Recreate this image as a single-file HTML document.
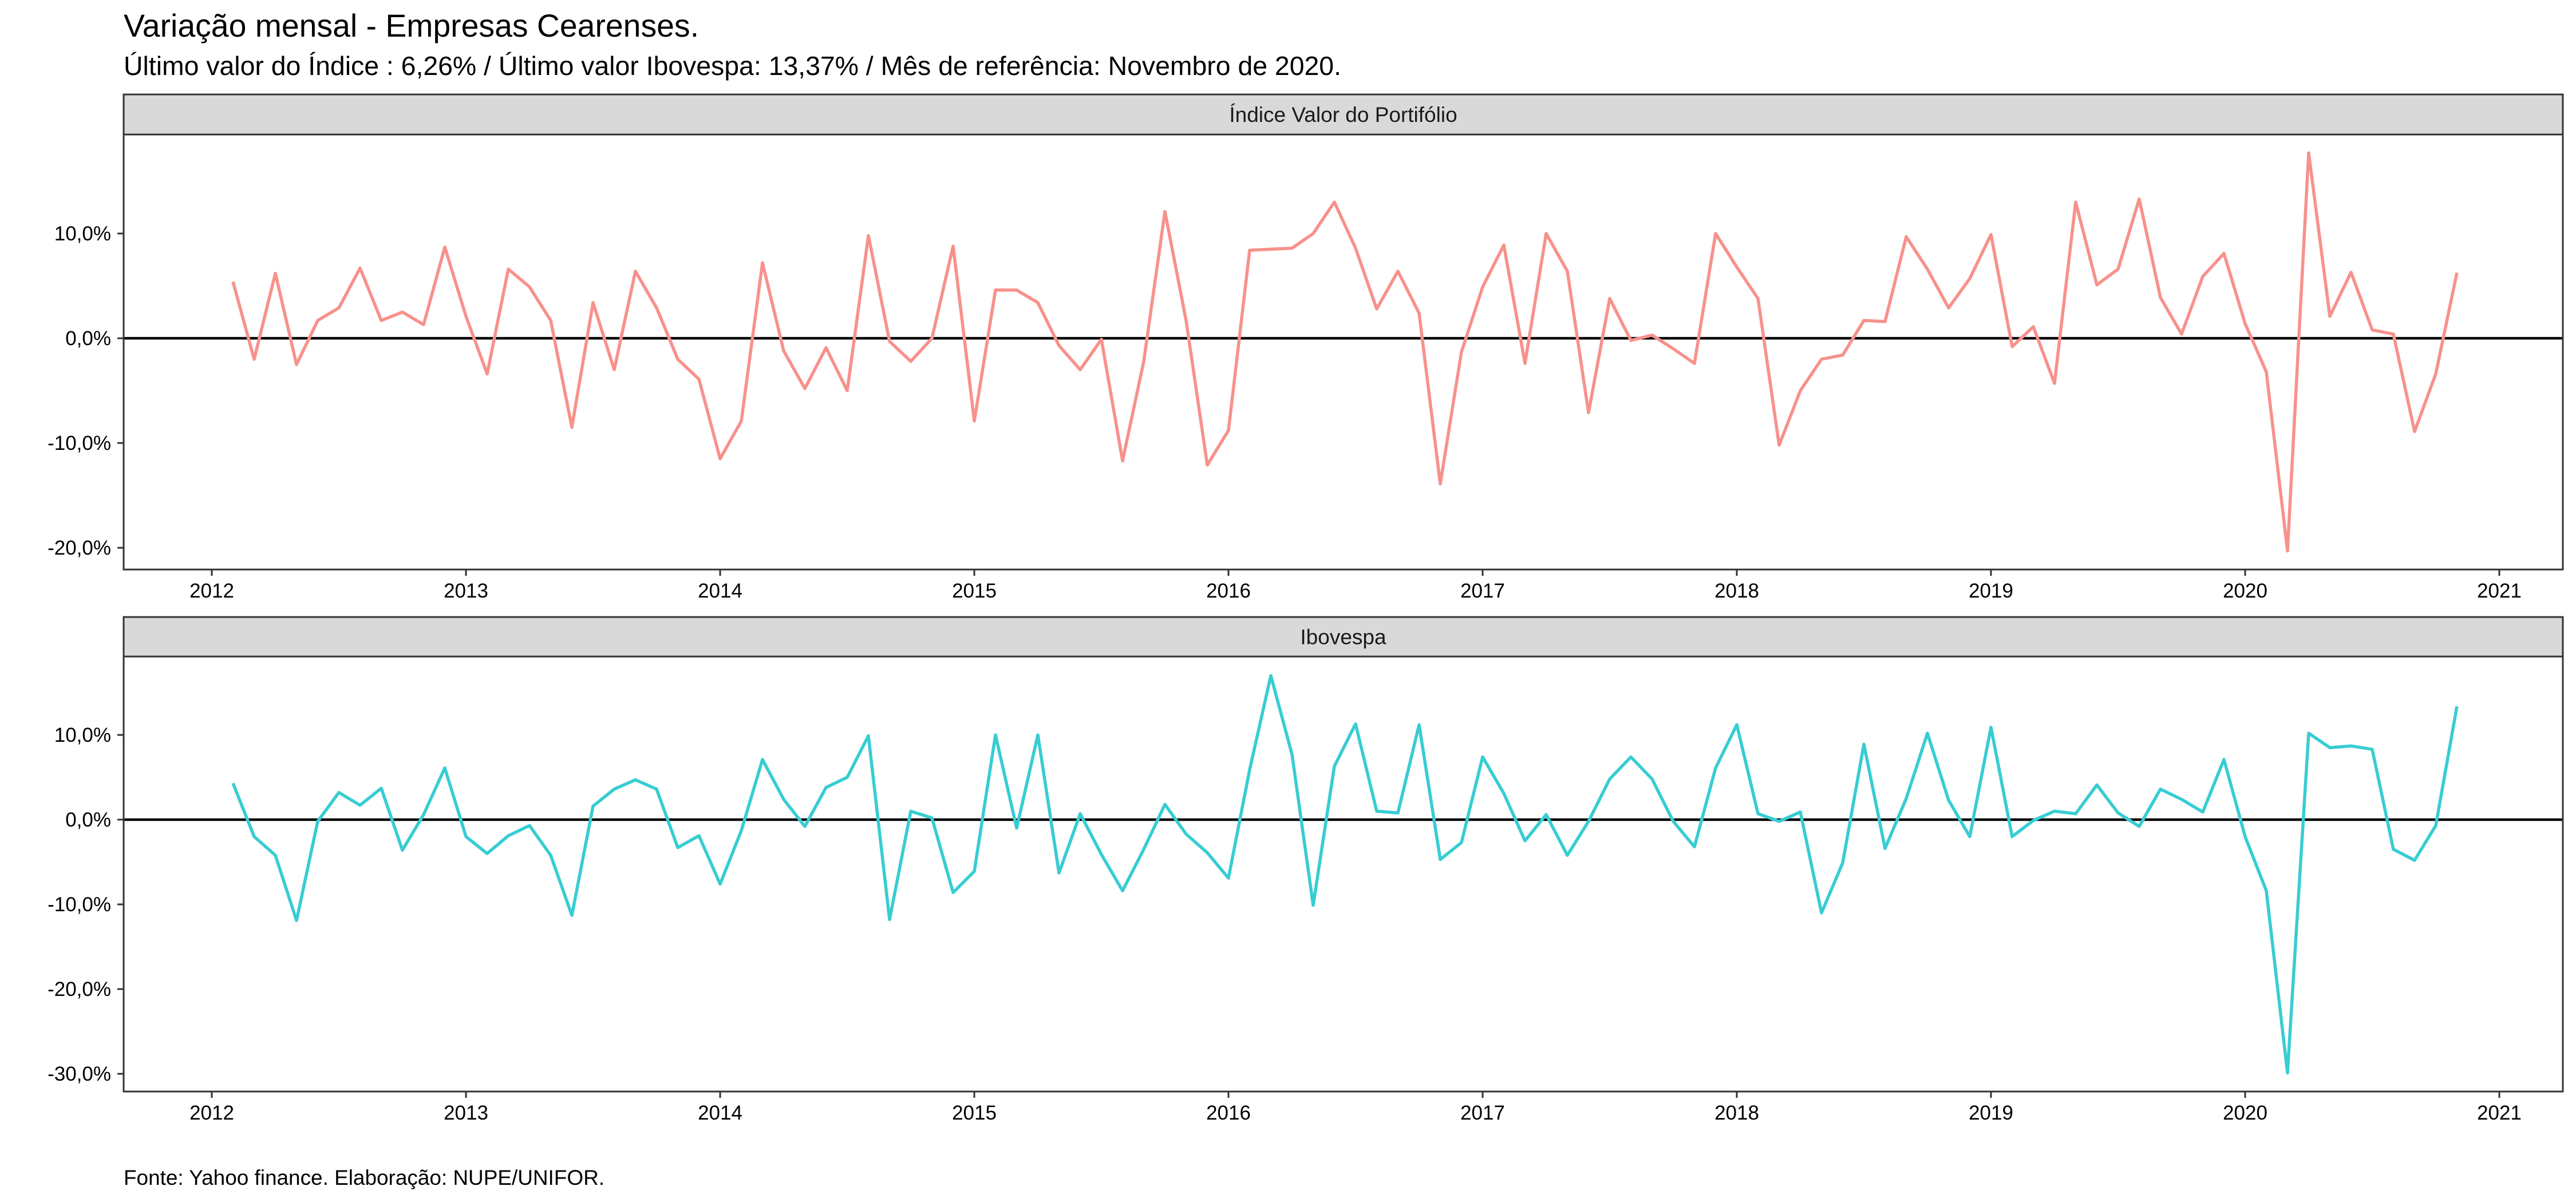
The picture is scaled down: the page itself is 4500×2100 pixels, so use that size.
<!DOCTYPE html>
<html><head><meta charset="utf-8"><style>
html,body{margin:0;padding:0;background:#fff;}
svg{display:block;font-family:"Liberation Sans",Arial,sans-serif;}
</style></head><body>
<svg id="chart" width="4500" height="2100" viewBox="0 0 4500 2100" xmlns="http://www.w3.org/2000/svg">
<rect x="0" y="0" width="4500" height="2100" fill="#fff"/>
<text x="216" y="64" font-size="56" textLength="1005" lengthAdjust="spacingAndGlyphs" fill="#000">Variação mensal - Empresas Cearenses.</text>
<text x="216" y="131" font-size="46" textLength="2127" lengthAdjust="spacingAndGlyphs" fill="#000">Último valor do Índice : 6,26% / Último valor Ibovespa: 13,37% / Mês de referência: Novembro de 2020.</text>
<text x="216" y="2070" font-size="37" textLength="840" lengthAdjust="spacingAndGlyphs" fill="#000">Fonte: Yahoo finance. Elaboração: NUPE/UNIFOR.</text>
<g id="panels"></g>
</svg>
<script>
const months = [];
for (let y = 2012; y <= 2020; y++) for (let m = 1; m <= 12; m++) {
  if (y === 2012 && m < 2) continue;
  if (y === 2020 && m > 11) continue;
  months.push(y + (m - 1) / 12);
}
const yearTicks = [2012, 2013, 2014, 2015, 2016, 2017, 2018, 2019, 2020, 2021];
const indiceValues = [5.4,-2.0,6.2,-2.5,1.7,2.9,6.7,1.7,2.5,1.3,8.7,
 2.1,-3.4,6.6,4.9,1.7,-8.5,3.4,-3.0,6.4,2.9,-2.0,-3.9,
 -11.5,-7.9,7.2,-1.2,-4.8,-0.9,-5.0,9.8,-0.3,-2.2,0.0,8.8,
 -7.9,4.6,4.6,3.4,-0.7,-3.0,-0.1,-11.7,-2.2,12.1,1.7,-12.1,
 -8.8,8.4,8.5,8.6,10.0,13.0,8.6,2.8,6.4,2.4,-13.9,-1.3,
 4.9,8.9,-2.4,10.0,6.4,-7.1,3.8,-0.2,0.3,-1.0,-2.4,10.0,
 6.8,3.8,-10.2,-5.0,-2.0,-1.6,1.7,1.6,9.7,6.6,2.9,5.7,
 9.9,-0.8,1.1,-4.3,13.0,5.1,6.6,13.3,3.9,0.4,5.9,8.1,
 1.4,-3.2,-20.3,17.7,2.1,6.3,0.8,0.4,-8.9,-3.4,6.26];
const ibovValues = [4.3,-2.0,-4.2,-11.9,-0.2,3.2,1.7,3.7,-3.6,0.6,6.1,
 -2.0,-4.0,-1.9,-0.7,-4.2,-11.3,1.6,3.6,4.7,3.6,-3.3,-1.9,
 -7.6,-1.3,7.1,2.4,-0.8,3.8,5.0,9.9,-11.8,1.0,0.2,-8.6,
 -6.1,10.0,-1.0,10.0,-6.3,0.7,-4.1,-8.4,-3.5,1.8,-1.7,-3.9,
 -6.9,5.9,17.0,7.7,-10.1,6.3,11.3,1.0,0.8,11.2,-4.7,-2.7,
 7.4,3.1,-2.5,0.6,-4.2,-0.2,4.8,7.4,4.8,-0.2,-3.2,6.1,
 11.2,0.7,-0.2,0.9,-11.0,-5.1,8.9,-3.4,2.5,10.2,2.3,-2.0,
 10.9,-2.0,-0.1,1.0,0.7,4.1,0.8,-0.8,3.6,2.4,0.9,7.1,
 -2.0,-8.4,-29.9,10.2,8.5,8.7,8.3,-3.5,-4.8,-0.7,13.37];
const p1Ticks = [10, 0, -10, -20];
const p2Ticks = [10, 0, -10, -20, -30];

const NS = "http://www.w3.org/2000/svg";
const root = document.getElementById('panels');
function mk(tag, attrs, parent) {
  const e = document.createElementNS(NS, tag);
  for (const k in attrs) e.setAttribute(k, attrs[k]);
  (parent || root).appendChild(e);
  return e;
}
const X0 = 216, X1 = 4477;
function xScale(t) { return 370 + (t - 2012) * 444.0; }
function fmt(v) { return v.toFixed(1).replace('.', ',') + '%'; }

function drawPanel(cfg) {
  const g = mk('g', {});
  
  
  const yScale = v => cfg.zero - v * cfg.per10 / 10;
  const strip = mk('rect', {x: X0, y: cfg.stripTop, width: X1 - X0, height: cfg.top - cfg.stripTop, fill: '#d9d9d9', stroke: '#333', 'stroke-width': 3}, g);
  
  
  const st = mk('text', {x: (X0 + X1) / 2, y: (cfg.stripTop + cfg.top) / 2 + 13, 'font-size': 37, 'text-anchor': 'middle', fill: '#1a1a1a'}, g);
  st.textContent = cfg.label;
  
  
  cfg.ticks.forEach(v => {
    const y = yScale(v);
    mk('line', {x1: 205, x2: X0, y1: y, y2: y, stroke: '#333', 'stroke-width': 3}, g);
    const t = mk('text', {x: 194, y: y + 12, 'font-size': 35, 'text-anchor': 'end', fill: '#000'}, g);
    t.textContent = fmt(v);
    
    
  });
  yearTicks.forEach(yr => {
    const x = xScale(yr);
    mk('line', {x1: x, x2: x, y1: cfg.bottom, y2: cfg.bottom + 11, stroke: '#333', 'stroke-width': 3}, g);
    const t = mk('text', {x: x, y: cfg.bottom + 49, 'font-size': 35, 'text-anchor': 'middle', fill: '#000'}, g);
    t.textContent = String(yr);
    
    
  });
  const zl = mk('line', {x1: X0, x2: X1, y1: yScale(0), y2: yScale(0), stroke: '#000', 'stroke-width': 4.5}, g);
  
  
  const pts = cfg.values.map((v, i) => xScale(months[i]).toFixed(1) + ',' + yScale(v).toFixed(1)).join(' ');
  const pl = mk('polyline', {points: pts, fill: 'none', stroke: cfg.color, 'stroke-width': 5.5, 'stroke-linejoin': 'round'}, g);
  
  
  const b = mk('rect', {x: X0, y: cfg.top, width: X1 - X0, height: cfg.bottom - cfg.top, fill: 'none', stroke: '#333', 'stroke-width': 3}, g);
  
  
}
drawPanel({name: 'panel-indice', label: 'Índice Valor do Portifólio', stripTop: 165, top: 235, bottom: 995, zero: 591, per10: 183, ticks: p1Ticks, values: indiceValues, color: '#F8918B', seriesName: 'indice-line'});
drawPanel({name: 'panel-ibovespa', label: 'Ibovespa', stripTop: 1078, top: 1147, bottom: 1907, zero: 1432, per10: 148, ticks: p2Ticks, values: ibovValues, color: '#37CDD2', seriesName: 'ibovespa-line'});
</script>
</body></html>
